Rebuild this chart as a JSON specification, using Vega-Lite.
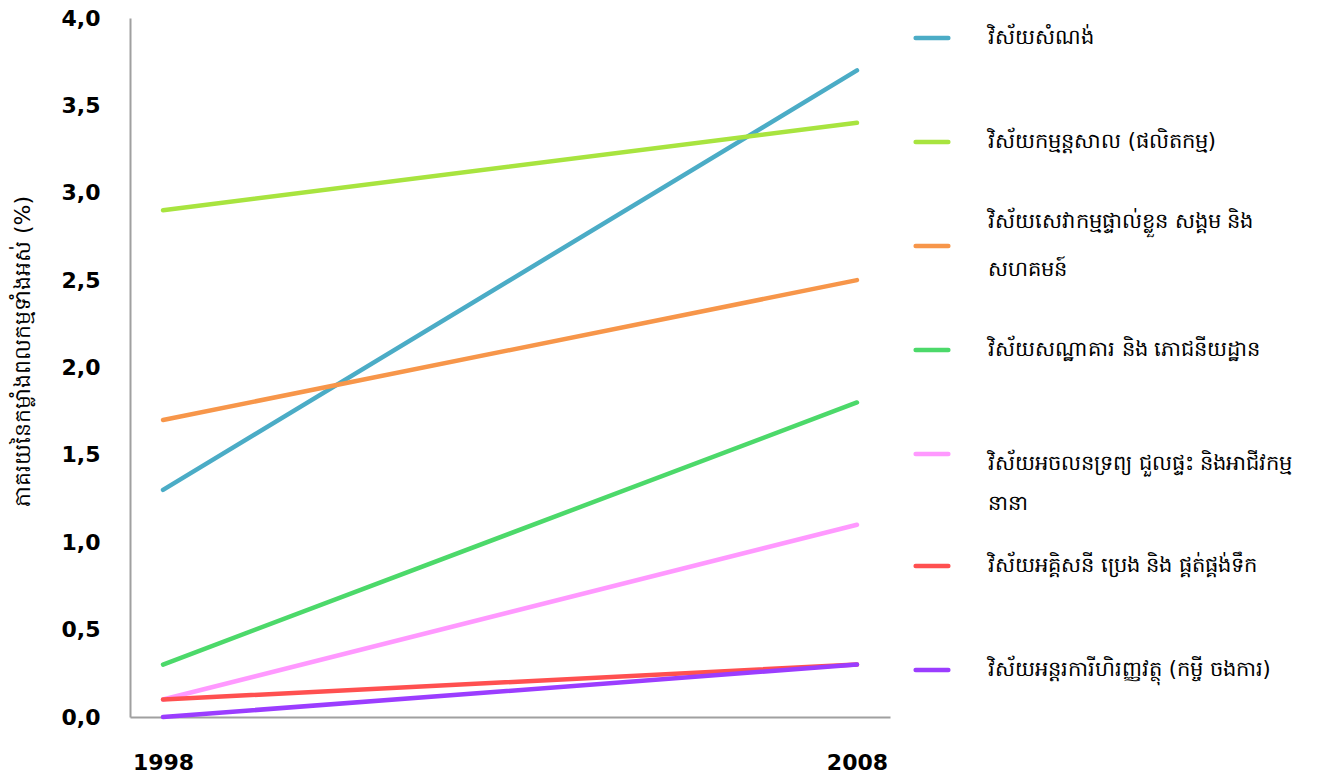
{
  "$schema": "https://vega.github.io/schema/vega-lite/v6.json",
  "autosize": {"type": "none"},
  "width": 760,
  "height": 699,
  "padding": {"left": 130, "top": 18, "right": 448, "bottom": 61},
  "background": "white",
  "config": {
    "view": {"stroke": null},
    "font": "DejaVu Sans"
  },
  "data": {
    "values": [
      {"sector": "វិស័យសំណង់", "year": "1998", "value": 1.3},
      {"sector": "វិស័យសំណង់", "year": "2008", "value": 3.7},
      {"sector": "វិស័យកម្មន្តសាល (ផលិតកម្ម)", "year": "1998", "value": 2.9},
      {"sector": "វិស័យកម្មន្តសាល (ផលិតកម្ម)", "year": "2008", "value": 3.4},
      {"sector": "វិស័យសេវាកម្មផ្ទាល់ខ្លួន សង្គម និង សហគមន៍", "year": "1998", "value": 1.7},
      {"sector": "វិស័យសេវាកម្មផ្ទាល់ខ្លួន សង្គម និង សហគមន៍", "year": "2008", "value": 2.5},
      {"sector": "វិស័យសណ្ឋាគារ និង ភោជនីយដ្ឋាន", "year": "1998", "value": 0.3},
      {"sector": "វិស័យសណ្ឋាគារ និង ភោជនីយដ្ឋាន", "year": "2008", "value": 1.8},
      {"sector": "វិស័យអចលនទ្រព្យ ជួលផ្ទះ និងអាជីវកម្មនានា", "year": "1998", "value": 0.1},
      {"sector": "វិស័យអចលនទ្រព្យ ជួលផ្ទះ និងអាជីវកម្មនានា", "year": "2008", "value": 1.1},
      {"sector": "វិស័យអគ្គិសនី ប្រេង និង ផ្គត់ផ្គង់ទឹក", "year": "1998", "value": 0.1},
      {"sector": "វិស័យអគ្គិសនី ប្រេង និង ផ្គត់ផ្គង់ទឹក", "year": "2008", "value": 0.3},
      {"sector": "វិស័យអន្តរការីហិរញ្ញវត្ថុ (កម្ចី ចងការ)", "year": "1998", "value": 0.0},
      {"sector": "វិស័យអន្តរការីហិរញ្ញវត្ថុ (កម្ចី ចងការ)", "year": "2008", "value": 0.3}
    ]
  },
  "mark": {"type": "line", "strokeWidth": 4.5, "strokeCap": "round"},
  "encoding": {
    "x": {
      "field": "year",
      "type": "ordinal",
      "scale": {"type": "point", "padding": 0.0476},
      "axis": {
        "title": null,
        "labelAngle": 0,
        "ticks": false,
        "grid": false,
        "domainColor": "#A0A0A0",
        "domainWidth": 2,
        "labelFont": "DejaVu Sans",
        "labelFontSize": 22,
        "labelFontWeight": "bold",
        "labelColor": "#000000",
        "labelPadding": 35
      }
    },
    "y": {
      "field": "value",
      "type": "quantitative",
      "scale": {"domain": [0, 4], "nice": false, "zero": true},
      "axis": {
        "title": "ភាគរយនៃកម្លាំងពលកម្មទាំងអស់ (%)",
        "titleFontSize": 22,
        "titleFontWeight": "normal",
        "titleColor": "#000000",
        "titleX": -108,
        "titleY": 333,
        "titleAngle": -90,
        "titleAlign": "center",
        "titleBaseline": "middle",
        "values": [0, 0.5, 1, 1.5, 2, 2.5, 3, 3.5, 4],
        "labelExpr": "replace(format(datum.value, '.1f'), '.', ',')",
        "ticks": false,
        "grid": false,
        "domainColor": "#A0A0A0",
        "domainWidth": 2,
        "labelFont": "DejaVu Sans",
        "labelFontSize": 22,
        "labelFontWeight": "bold",
        "labelColor": "#000000",
        "labelPadding": 30
      }
    },
    "color": {
      "field": "sector",
      "type": "nominal",
      "scale": {
        "domain": [
          "វិស័យសំណង់",
          "វិស័យកម្មន្តសាល (ផលិតកម្ម)",
          "វិស័យសេវាកម្មផ្ទាល់ខ្លួន សង្គម និង សហគមន៍",
          "វិស័យសណ្ឋាគារ និង ភោជនីយដ្ឋាន",
          "វិស័យអចលនទ្រព្យ ជួលផ្ទះ និងអាជីវកម្មនានា",
          "វិស័យអគ្គិសនី ប្រេង និង ផ្គត់ផ្គង់ទឹក",
          "វិស័យអន្តរការីហិរញ្ញវត្ថុ (កម្ចី ចងការ)"
        ],
        "range": ["#4BACC6", "#A8E43F", "#F7964A", "#4CD96A", "#FF99FF", "#FF5050", "#9B3DFF"]
      },
      "legend": {
        "title": null,
        "orient": "none",
        "legendX": 783,
        "legendY": 1,
        "symbolType": "M-1,-2.61M-1,0H1M1,2.61",
        "symbolSize": 1069,
        "symbolStrokeWidth": 4.5,
        "labelFontSize": 21,
        "labelColor": "#000000",
        "labelLimit": 400,
        "labelOffset": 37,
        "rowPadding": 0,
        "padding": 0,
        "encode": {
          "labels": {
            "update": {
              "lineHeight": {"signal": "datum.value == 'វិស័យសេវាកម្មផ្ទាល់ខ្លួន សង្គម និង សហគមន៍' ? 48 : 40"},
              "dy": {"signal": "datum.value == 'វិស័យសេវាកម្មផ្ទាល់ខ្លួន សង្គម និង សហគមន៍' ? -24 : datum.value == 'វិស័យអចលនទ្រព្យ ជួលផ្ទះ និងអាជីវកម្មនានា' ? 10 : 0"}
            }
          },
          "symbols": {"update": {"strokeCap": {"value": "round"}}}
        },
        "labelExpr": "datum.label == 'វិស័យសេវាកម្មផ្ទាល់ខ្លួន សង្គម និង សហគមន៍' ? ['វិស័យសេវាកម្មផ្ទាល់ខ្លួន   សង្គម   និង', 'សហគមន៍'] : datum.label == 'វិស័យអចលនទ្រព្យ ជួលផ្ទះ និងអាជីវកម្មនានា' ? ['វិស័យអចលនទ្រព្យ  ជួលផ្ទះ  និងអាជីវកម្ម', 'នានា'] : datum.label"
      }
    }
  }
}
